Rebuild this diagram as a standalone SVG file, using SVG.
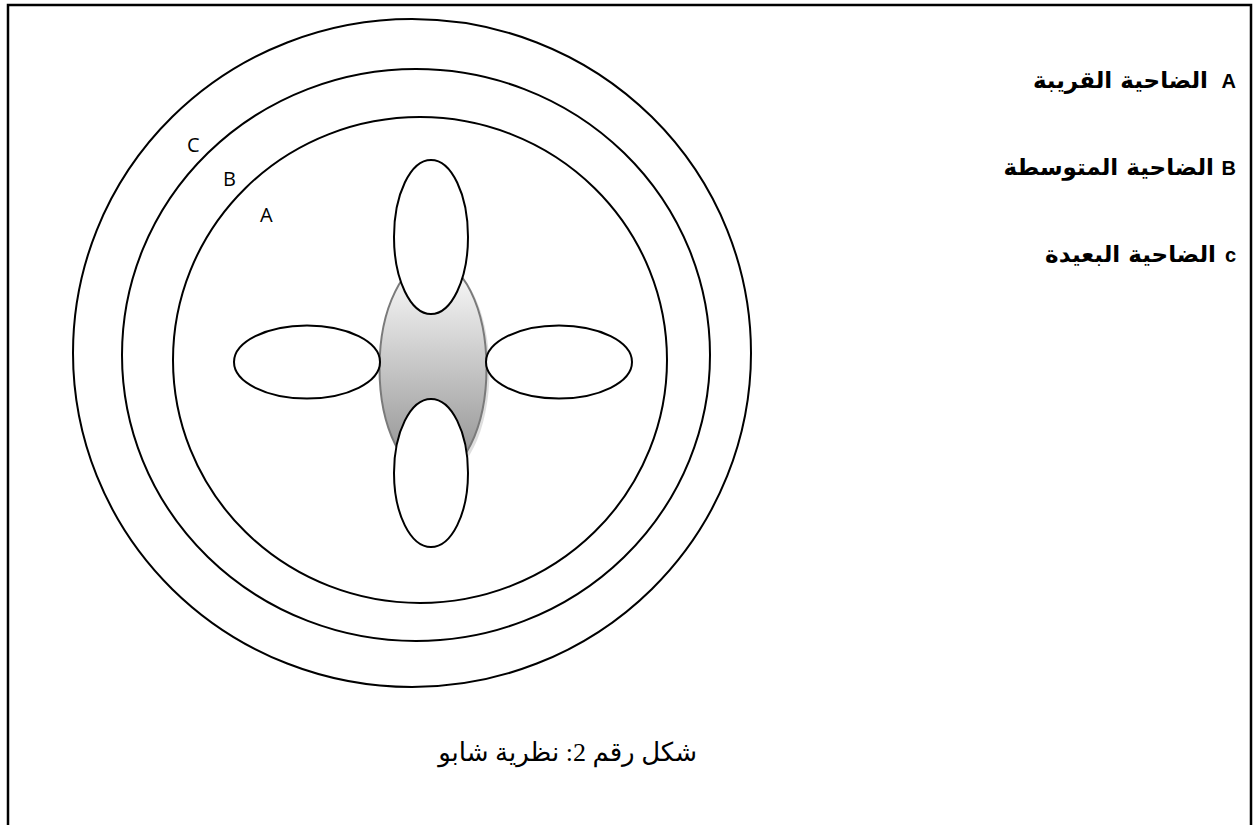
<svg xmlns="http://www.w3.org/2000/svg" width="1253" height="825" viewBox="0 0 1253 825">
<style>
.ring{fill:none;stroke:#000;stroke-width:2}
.petal{fill:#fff;stroke:#000;stroke-width:2}
.lbl{font-family:"Open Sans","Liberation Sans",sans-serif;font-size:20px;fill:#000}
.leg{font-family:"Liberation Sans",Arial,sans-serif;font-size:20px;font-weight:bold;fill:#000}
.ar{font-family:"DejaVu Sans",sans-serif;font-size:23px;font-weight:bold;fill:#000}
.cap{font-family:"Liberation Serif","DejaVu Sans",serif;font-size:26px;fill:#000}
</style>
<defs>
<linearGradient id="g" x1="0" y1="0" x2="0" y2="1">
<stop offset="0" stop-color="#ffffff"/>
<stop offset="1" stop-color="#8c8c8c"/>
</linearGradient>
</defs>
<rect width="1253" height="825" fill="#fff"/>
<path d="M8,830 V5 H1251 V830" fill="none" stroke="#000" stroke-width="2.5"/>
<g id="rings">
<ellipse id="ringC" class="ring" cx="412" cy="353" rx="339" ry="334"/>
<ellipse id="ringB" class="ring" cx="416" cy="355" rx="294" ry="286"/>
<ellipse id="ringA" class="ring" cx="420" cy="360" rx="247" ry="243"/>
</g>
<g id="center">
<ellipse cx="436" cy="371" rx="53.5" ry="108" fill="#c8c8c8" opacity="0.6"/>
<ellipse cx="433" cy="368" rx="53.5" ry="108" fill="url(#g)" stroke="#7a7a7a" stroke-width="2"/>
</g>
<g id="petal-top"><ellipse class="petal" cx="431" cy="237" rx="37" ry="77"/></g>
<g id="petal-left"><ellipse class="petal" cx="307" cy="362" rx="73" ry="36.5"/></g>
<g id="petal-right"><ellipse class="petal" cx="559" cy="362" rx="73" ry="36.5"/></g>
<g id="petal-bottom"><ellipse class="petal" cx="431" cy="473" rx="37" ry="74"/></g>
<g id="ring-labels">
<text class="lbl" x="187" y="152">C</text>
<text class="lbl" x="223" y="186">B</text>
<text class="lbl" x="260" y="222">A</text>
</g>
<g id="legend">
<text class="leg" x="1236" y="88" text-anchor="end">A</text>
<text class="ar" x="1208" y="88" text-anchor="end">الضاحية القريبة</text>
<text class="leg" x="1236" y="175" text-anchor="end">B</text>
<text class="ar" x="1214" y="175" text-anchor="end">الضاحية المتوسطة</text>
<text class="leg" x="1236" y="262" text-anchor="end">c</text>
<text class="ar" x="1216" y="262" text-anchor="end">الضاحية البعيدة</text>
</g>
<g id="caption">
<text class="cap" x="697" y="761" text-anchor="end">شكل رقم 2: نظرية شابو</text>
</g>
</svg>
